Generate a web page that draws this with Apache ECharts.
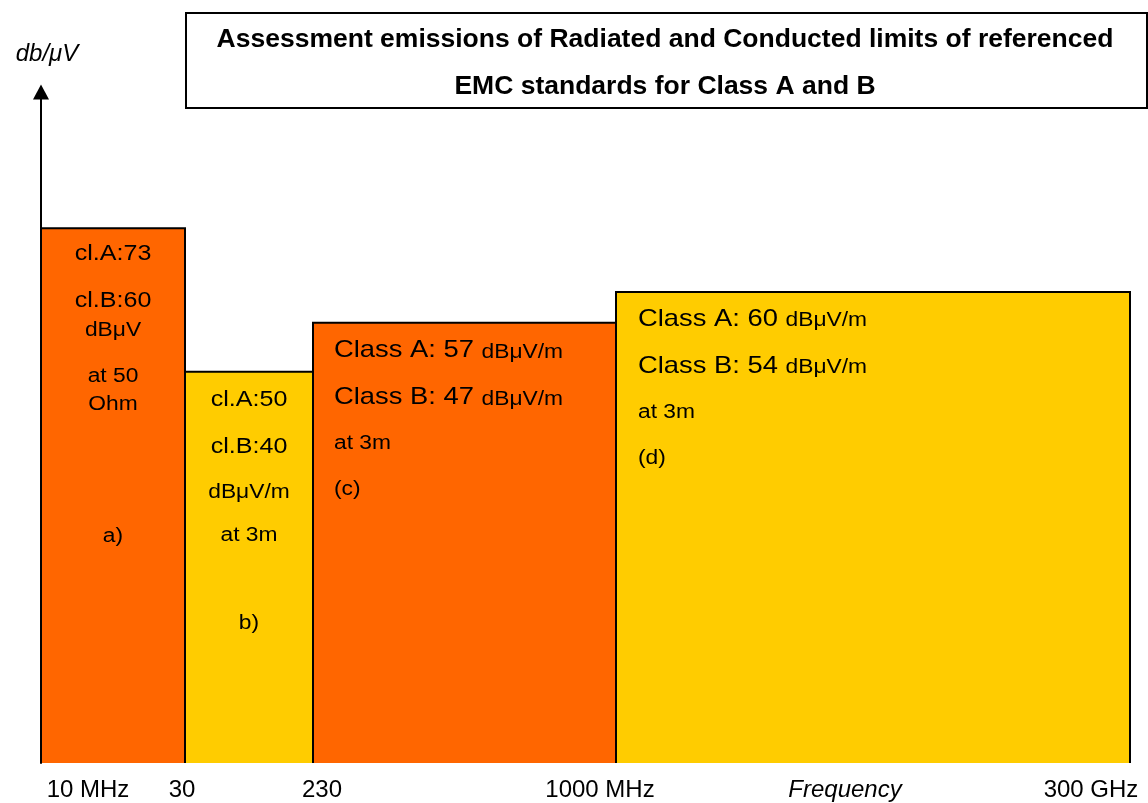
<!DOCTYPE html>
<html>
<head>
<meta charset="utf-8">
<title>EMC limits</title>
<script src="https://cdn.jsdelivr.net/npm/echarts@6/dist/echarts.min.js"></script>
<style>
    html, body { margin: 0; padding: 0; background: #fff; }
    #chart { width: 1148px; height: 803px; }
</style>
</head>
<body>
<div id="chart"></div>
<script>
// frequency bands, drawn as schematic blocks (edges on a layout scale)
var bandEdges = [0, 144, 272, 575, 1089];
var bandLevels = [79.7, 58.3, 65.6, 70.2];
var bandTexts = [
    ['cl.A:73', 'cl.B:60', 'dBμV', 'at 50', 'Ohm', 'a)'],
    ['cl.A:50', 'cl.B:40', 'dBμV/m', 'at 3m', 'b)'],
    ['Class A: 57 dBμV/m', 'Class B: 47 dBμV/m', 'at 3m', '(c)'],
    ['Class A: 60 dBμV/m', 'Class B: 54 dBμV/m', 'at 3m', '(d)']
];
var tickPositions = [47, 141, 281, 559, 804, 1050];
var tickLabels = ['10 MHz', '30', '230', '1000 MHz', 'Frequency', '300 GHz'];
var titleLines = [
    'Assessment emissions of Radiated and Conducted limits of referenced',
    'EMC standards for Class A and B'
];

var FONT = "'Liberation Sans', Arial, sans-serif";
var bandColors = ['#FF6600', '#FFCC00', '#FF6600', '#FFCC00'];
var textLayout = [
    { align: 'center', offsets: [26, 73, 102, 148, 176, 308], sizes: [22, 22, 20, 20, 20, 20] },
    { align: 'center', offsets: [28, 75, 121, 164, 252], sizes: [22, 22, 20, 20, 20] },
    { align: 'left', pad: 21, offsets: [28, 75, 121, 167], sizes: [24, 24, 20, 20] },
    { align: 'left', pad: 22, offsets: [27, 74, 121, 167], sizes: [24, 24, 20, 20] }
];

var bandData = [];
for (var i = 0; i < bandLevels.length; i++) {
    bandData.push([bandEdges[i], bandEdges[i + 1], bandLevels[i]]);
}

function renderBand(params, api) {
    var i = params.dataIndex;
    var tl = api.coord([api.value(0), api.value(2)]);
    var br = api.coord([api.value(1), 0]);
    var x0 = tl[0], y0 = tl[1], x1 = br[0], y1 = br[1];
    var kids = [
        { type: 'rect', shape: { x: x0, y: y0, width: x1 - x0, height: y1 - y0 }, style: { fill: bandColors[i] } },
        { type: 'polyline', shape: { points: [[x0, y1], [x0, y0], [x1, y0], [x1, y1]] },
          style: { stroke: '#000', lineWidth: 2, fill: 'none' } }
    ];
    var lay = textLayout[i];
    bandTexts[i].forEach(function (line, k) {
        var tx = lay.align === 'center' ? (x0 + x1) / 2 : x0 + lay.pad;
        var m = line.match(/^(.*\d) (dBμV\/m)$/);
        var style = {
            fill: '#000', fontFamily: FONT, fontSize: lay.sizes[k],
            align: lay.align, verticalAlign: 'middle'
        };
        if (m) {
            style.text = '{a|' + m[1] + ' }{b|' + m[2] + '}';
            style.rich = {
                a: { fontSize: lay.sizes[k], fontFamily: FONT, fill: '#000', verticalAlign: 'bottom' },
                b: { fontSize: 20, fontFamily: FONT, fill: '#000', verticalAlign: 'bottom' }
            };
        } else {
            style.text = line;
        }
        kids.push({ type: 'text', x: tx, y: y0 + lay.offsets[k], scaleX: 1.14, style: style });
    });
    return { type: 'group', children: kids };
}

var chart = echarts.init(document.getElementById('chart'));
chart.setOption({
    animation: false,
    backgroundColor: '#fff',
    grid: { left: 41, right: 18, top: 92, bottom: 40 },
    graphic: [
        { type: 'rect', left: 185, top: 12, shape: { width: 961, height: 95 },
          style: { fill: '#fff', stroke: '#000', lineWidth: 2 } },
        { type: 'text', x: 665, y: 40,
          style: { text: titleLines[0], align: 'center', verticalAlign: 'middle', fill: '#000',
                   fontSize: 26.5, fontWeight: 'bold', fontFamily: FONT } },
        { type: 'text', x: 665, y: 87,
          style: { text: titleLines[1], align: 'center', verticalAlign: 'middle', fill: '#000',
                   fontSize: 26.5, fontWeight: 'bold', fontFamily: FONT } }
    ],
    xAxis: {
        type: 'value', min: 0, max: 1089,
        axisLine: { show: false },
        axisTick: { show: false },
        splitLine: { show: false },
        axisLabel: {
            customValues: tickPositions,
            margin: 15,
            color: '#000',
            fontSize: 24,
            fontFamily: FONT,
            formatter: function (v) {
                var idx = tickPositions.indexOf(v);
                var t = idx >= 0 ? tickLabels[idx] : '';
                return t === 'Frequency' ? '{i|' + t + '}' : t;
            },
            rich: { i: { fontStyle: 'italic', fontSize: 24, fontFamily: FONT, color: '#000' } }
        }
    },
    yAxis: {
        type: 'value', min: 0, max: 100,
        name: 'db/μV',
        nameLocation: 'end',
        nameGap: 26,
        nameTextStyle: { fontStyle: 'italic', fontSize: 24, fontFamily: FONT, color: '#000', padding: [0, 0, 0, 12] },
        axisLine: { show: true, symbol: ['none', 'triangle'], symbolSize: [16, 15],
                    lineStyle: { color: '#000', width: 2 } },
        axisTick: { show: false },
        axisLabel: { show: false },
        splitLine: { show: false }
    },
    series: [{
        type: 'custom',
        renderItem: renderBand,
        encode: { x: [0, 1], y: 2 },
        data: bandData
    }]
});
</script>
</body>
</html>
